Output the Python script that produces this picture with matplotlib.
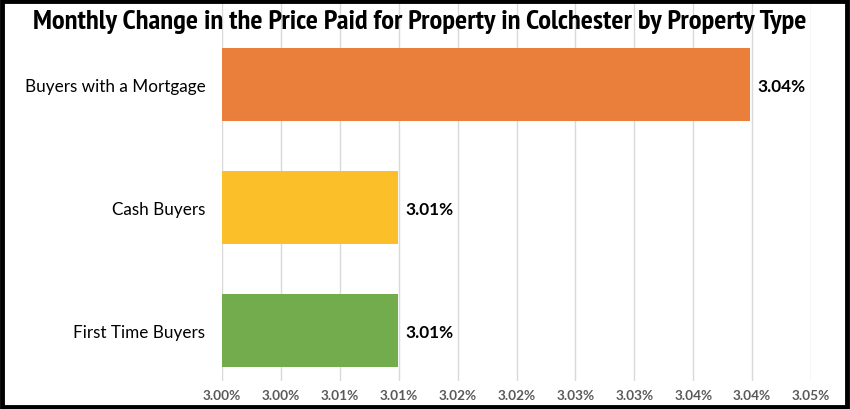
import matplotlib
matplotlib.use("Agg")
import matplotlib.pyplot as plt
from matplotlib.patches import Rectangle
from matplotlib import font_manager as fm

categories = ["Buyers with a Mortgage", "Cash Buyers", "First Time Buyers"]
values = [3.0448, 3.0149, 3.0149]
value_labels = ["3.04%", "3.01%", "3.01%"]
colors = ["#EA7E3B", "#FBBF2A", "#72AC4D"]
tick_values = [3.000, 3.005, 3.010, 3.015, 3.020, 3.025, 3.030, 3.035, 3.040, 3.045, 3.050]
tick_labels = ["3.00%", "3.00%", "3.01%", "3.01%", "3.02%", "3.02%", "3.03%", "3.03%", "3.04%", "3.04%", "3.05%"]
title = "Monthly Change in the Price Paid for Property in Colchester by Property Type"
x_min = 3.00


def pick_condensed_bold():
    """Find an installed condensed/narrow bold face, if any."""
    best = None
    for f in fm.fontManager.ttflist:
        name = f.name.lower()
        fname = f.fname.lower()
        stretch = f.stretch
        narrow = ("condensed" in fname or "narrow" in fname or "condensed" in name or "narrow" in name
                  or stretch in ("condensed", "semi-condensed", "extra-condensed", "ultra-condensed")
                  or (isinstance(stretch, int) and stretch < 500))
        w = f.weight
        bold = (isinstance(w, int) and w >= 600) or (isinstance(w, str) and "bold" in w) or "bold" in fname
        italic = "italic" in fname or f.style != "normal"
        if narrow and bold and not italic and "semibold" not in fname and "extrabold" not in fname \
                and "black" not in fname and "extracondensed" not in fname:
            score = 0
            if "dejavu" in fname:
                score = 1
            if "noto" in fname or "open" in fname or "roboto" in fname:
                score = 2
            if "liberation" in fname or "narrow" in fname:
                score = 3
            if best is None or score > best[0]:
                best = (score, f.fname)
    return best[1] if best else None


fig = plt.figure(figsize=(8.5, 4.1), dpi=100)
ax = fig.add_axes([222/850, 1-381.7/410, (811-222)/850, (381.7-4)/410])

ypos = list(range(len(categories)))
ax.barh(ypos, [v - x_min for v in values], left=x_min, height=0.593, color=colors, zorder=2)
for y, v, lab in zip(ypos, values, value_labels):
    ax.text(v + 0.00065, y + 0.01, lab, va="center", ha="left", fontsize=12.4, fontweight="bold",
            family=["Lato", "DejaVu Sans"], color="black", zorder=3)

ax.set_xlim(3.00, 3.05)
ax.set_ylim(2.406, -0.662)
ax.set_xticks(tick_values)
ax.set_xticklabels(tick_labels, fontsize=9.8, color="#595959", family=["Lato", "DejaVu Sans"], fontweight="bold")
ax.set_yticks(ypos)
ax.set_yticklabels(categories, fontsize=12.3, color="black", family=["Lato", "DejaVu Sans"])
ax.tick_params(axis="y", length=0, pad=12)
ax.tick_params(axis="x", length=0, pad=6)
ax.grid(axis="x", color="#D9D9D9", linewidth=1, zorder=0)
for s in ax.spines.values():
    s.set_visible(False)

cond = pick_condensed_bold()
if cond:
    tprops = dict(fontproperties=fm.FontProperties(fname=cond, size=18))
else:
    tprops = dict(fontsize=18, fontweight="bold", family=["Lato", "DejaVu Sans"])
t = fig.text(0.4935, 1-22/410, title, ha="center", va="center", color="black", zorder=5, **tprops)

# fit title width to the reference (~773 px)
fig.canvas.draw()
r = fig.canvas.get_renderer()
w = t.get_window_extent(r).width
t.set_fontsize(18 * 773.0 / w)

fig.patches.append(Rectangle((0.002, 0.004), 0.994, 0.991, transform=fig.transFigure,
                             fill=False, edgecolor="black", linewidth=3.5))

fig.savefig("out.png", dpi=100)
